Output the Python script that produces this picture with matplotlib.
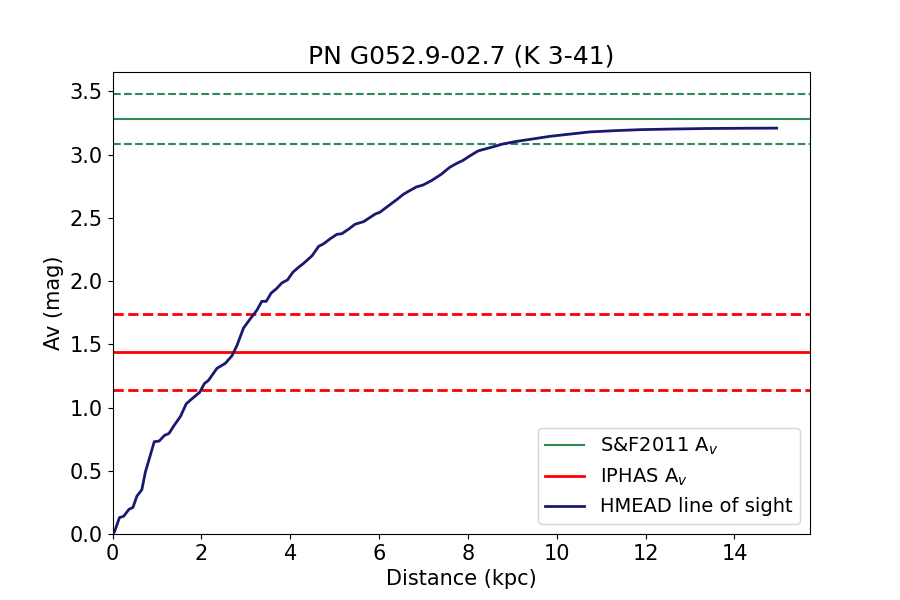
import numpy as np
import matplotlib
matplotlib.use("Agg")
import matplotlib.pyplot as plt

# HMEAD line of sight extinction profile
dist = [0.0, 0.045, 0.157, 0.25, 0.37, 0.46, 0.55, 0.66, 0.74, 0.94, 1.05, 1.17, 1.27,
        1.38, 1.53, 1.66, 1.79, 1.96, 2.07, 2.16, 2.35, 2.54, 2.69, 2.80, 2.95, 3.14,
        3.25, 3.36, 3.46, 3.57, 3.69, 3.81, 3.94, 4.06, 4.19, 4.30, 4.49, 4.64, 4.75,
        4.90, 5.05, 5.16, 5.31, 5.46, 5.65, 5.91, 6.02, 6.17, 6.40, 6.54, 6.66, 6.84,
        6.99, 7.18, 7.40, 7.59, 7.74, 7.89, 8.04, 8.23, 8.49, 8.79, 9.09, 9.47, 9.84,
        10.3, 10.74, 11.3, 11.87, 12.6, 13.36, 14.2, 14.95]
av = [0.0, 0.018, 0.13, 0.14, 0.195, 0.21, 0.30, 0.35, 0.49, 0.73, 0.735, 0.78, 0.795,
      0.855, 0.93, 1.03, 1.07, 1.12, 1.19, 1.215, 1.31, 1.35, 1.41, 1.49, 1.63, 1.72,
      1.77, 1.84, 1.84, 1.905, 1.94, 1.985, 2.01, 2.07, 2.11, 2.14, 2.20, 2.275, 2.295,
      2.335, 2.37, 2.375, 2.41, 2.45, 2.47, 2.53, 2.545, 2.585, 2.645, 2.685, 2.71, 2.745,
      2.76, 2.795, 2.845, 2.90, 2.93, 2.955, 2.99, 3.03, 3.055, 3.085, 3.105, 3.125, 3.145,
      3.163, 3.18, 3.19, 3.198, 3.203, 3.207, 3.209, 3.21]

# reference extinctions
sf_av, sf_err = 3.28, 0.197
iphas_av, iphas_err = 1.44, 0.30

plt.rcParams["font.size"] = 15

fig, ax = plt.subplots(figsize=(9, 6), dpi=100)

ax.axhline(sf_av, color="seagreen", lw=1.5, label="S&F2011 A$_v$")
ax.axhline(sf_av + sf_err, color="seagreen", lw=1.5, ls="--")
ax.axhline(sf_av - sf_err, color="seagreen", lw=1.5, ls="--")

ax.axhline(iphas_av, color="red", lw=2, label="IPHAS A$_v$")
ax.axhline(iphas_av + iphas_err, color="red", lw=2, ls="--")
ax.axhline(iphas_av - iphas_err, color="red", lw=2, ls="--")

ax.plot(dist, av, color="midnightblue", lw=2, label="HMEAD line of sight")

ax.set_xlim(0, 15.7)
ax.set_ylim(0, 3.654)
ax.set_xlabel("Distance (kpc)")
ax.set_ylabel("Av (mag)")
ax.set_title("PN G052.9-02.7 (K 3-41)", fontsize=18)
ax.legend(loc="lower right", fontsize=14)

plt.savefig("out.png", dpi=100)
